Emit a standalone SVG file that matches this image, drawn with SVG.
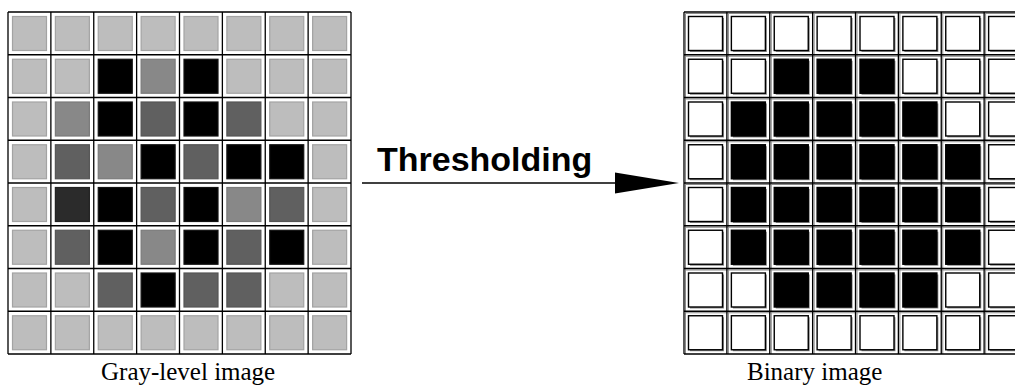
<svg xmlns="http://www.w3.org/2000/svg" xmlns:xlink="http://www.w3.org/1999/xlink" width="1015" height="385" viewBox="0 0 1015 385">
<style>
.grid{fill:none;stroke:#000;stroke-width:1.3}
.shade{fill:none;stroke:#8a8a8a;stroke-width:1}
.cap{font-family:"Liberation Serif","Times New Roman",serif;font-size:25px;fill:#000}
.title{font-family:"Liberation Sans",Arial,sans-serif;font-weight:bold;font-size:34px;fill:#000}
</style>
<defs>
<g id="L"><rect x="4.5" y="4.5" width="34" height="34" fill="#bdbdbd" stroke="#a3a3a3" stroke-width="1.2"/></g>
<g id="M"><rect x="4.5" y="4.5" width="34" height="34" fill="#888888" stroke="#7a7a7a" stroke-width="1.2"/></g>
<g id="D"><rect x="4.5" y="4.5" width="34" height="34" fill="#606060" stroke="#555555" stroke-width="1.2"/></g>
<g id="V"><rect x="4.5" y="4.5" width="34" height="34" fill="#2b2b2b" stroke="#222222" stroke-width="1.2"/></g>
<g id="K"><rect x="4.5" y="4.5" width="34" height="34" fill="#000000" stroke="#111111" stroke-width="1.2"/></g>
<g id="W"><rect x="6" y="6" width="34" height="34" fill="#8a8a8a"/><rect x="4.5" y="4.5" width="34" height="34" fill="#ffffff" stroke="#000" stroke-width="1.4"/></g>
<g id="B"><rect x="6" y="6" width="34" height="34" fill="#8a8a8a"/><rect x="4.5" y="4.5" width="34" height="34" fill="#000000" stroke="#000" stroke-width="1.4"/></g>
</defs>
<rect width="1015" height="385" fill="#fff"/>

<g id="gray-grid">
<g transform="translate(0,12)"><use href="#L" x="8"/><use href="#L" x="50.875"/><use href="#L" x="93.75"/><use href="#L" x="136.625"/><use href="#L" x="179.5"/><use href="#L" x="222.375"/><use href="#L" x="265.25"/><use href="#L" x="308.125"/></g>
<g transform="translate(0,54.75)"><use href="#L" x="8"/><use href="#L" x="50.875"/><use href="#K" x="93.75"/><use href="#M" x="136.625"/><use href="#K" x="179.5"/><use href="#L" x="222.375"/><use href="#L" x="265.25"/><use href="#L" x="308.125"/></g>
<g transform="translate(0,97.5)"><use href="#L" x="8"/><use href="#M" x="50.875"/><use href="#K" x="93.75"/><use href="#D" x="136.625"/><use href="#K" x="179.5"/><use href="#D" x="222.375"/><use href="#L" x="265.25"/><use href="#L" x="308.125"/></g>
<g transform="translate(0,140.25)"><use href="#L" x="8"/><use href="#D" x="50.875"/><use href="#M" x="93.75"/><use href="#K" x="136.625"/><use href="#D" x="179.5"/><use href="#K" x="222.375"/><use href="#K" x="265.25"/><use href="#L" x="308.125"/></g>
<g transform="translate(0,183)"><use href="#L" x="8"/><use href="#V" x="50.875"/><use href="#K" x="93.75"/><use href="#D" x="136.625"/><use href="#K" x="179.5"/><use href="#M" x="222.375"/><use href="#D" x="265.25"/><use href="#L" x="308.125"/></g>
<g transform="translate(0,225.75)"><use href="#L" x="8"/><use href="#D" x="50.875"/><use href="#K" x="93.75"/><use href="#M" x="136.625"/><use href="#K" x="179.5"/><use href="#D" x="222.375"/><use href="#K" x="265.25"/><use href="#L" x="308.125"/></g>
<g transform="translate(0,268.5)"><use href="#L" x="8"/><use href="#L" x="50.875"/><use href="#D" x="93.75"/><use href="#K" x="136.625"/><use href="#D" x="179.5"/><use href="#D" x="222.375"/><use href="#L" x="265.25"/><use href="#L" x="308.125"/></g>
<g transform="translate(0,311.25)"><use href="#L" x="8"/><use href="#L" x="50.875"/><use href="#L" x="93.75"/><use href="#L" x="136.625"/><use href="#L" x="179.5"/><use href="#L" x="222.375"/><use href="#L" x="265.25"/><use href="#L" x="308.125"/></g>
<path class="grid" d="M8 12V354M50.875 12V354M93.75 12V354M136.625 12V354M179.5 12V354M222.375 12V354M265.25 12V354M308.125 12V354M351 12V354M8 12H351M8 54.75H351M8 97.5H351M8 140.25H351M8 183H351M8 225.75H351M8 268.5H351M8 311.25H351M8 354H351"/>
<text class="cap" x="101" y="380">Gray-level image</text>
</g>

<g id="binary-grid">
<g transform="translate(0,12)"><use href="#W" x="684"/><use href="#W" x="726.875"/><use href="#W" x="769.75"/><use href="#W" x="812.625"/><use href="#W" x="855.5"/><use href="#W" x="898.375"/><use href="#W" x="941.25"/><use href="#W" x="984.125"/></g>
<g transform="translate(0,54.75)"><use href="#W" x="684"/><use href="#W" x="726.875"/><use href="#B" x="769.75"/><use href="#B" x="812.625"/><use href="#B" x="855.5"/><use href="#W" x="898.375"/><use href="#W" x="941.25"/><use href="#W" x="984.125"/></g>
<g transform="translate(0,97.5)"><use href="#W" x="684"/><use href="#B" x="726.875"/><use href="#B" x="769.75"/><use href="#B" x="812.625"/><use href="#B" x="855.5"/><use href="#B" x="898.375"/><use href="#W" x="941.25"/><use href="#W" x="984.125"/></g>
<g transform="translate(0,140.25)"><use href="#W" x="684"/><use href="#B" x="726.875"/><use href="#B" x="769.75"/><use href="#B" x="812.625"/><use href="#B" x="855.5"/><use href="#B" x="898.375"/><use href="#B" x="941.25"/><use href="#W" x="984.125"/></g>
<g transform="translate(0,183)"><use href="#W" x="684"/><use href="#B" x="726.875"/><use href="#B" x="769.75"/><use href="#B" x="812.625"/><use href="#B" x="855.5"/><use href="#B" x="898.375"/><use href="#B" x="941.25"/><use href="#W" x="984.125"/></g>
<g transform="translate(0,225.75)"><use href="#W" x="684"/><use href="#B" x="726.875"/><use href="#B" x="769.75"/><use href="#B" x="812.625"/><use href="#B" x="855.5"/><use href="#B" x="898.375"/><use href="#B" x="941.25"/><use href="#W" x="984.125"/></g>
<g transform="translate(0,268.5)"><use href="#W" x="684"/><use href="#W" x="726.875"/><use href="#B" x="769.75"/><use href="#B" x="812.625"/><use href="#B" x="855.5"/><use href="#B" x="898.375"/><use href="#W" x="941.25"/><use href="#W" x="984.125"/></g>
<g transform="translate(0,311.25)"><use href="#W" x="684"/><use href="#W" x="726.875"/><use href="#W" x="769.75"/><use href="#W" x="812.625"/><use href="#W" x="855.5"/><use href="#W" x="898.375"/><use href="#W" x="941.25"/><use href="#W" x="984.125"/></g>
<path class="shade" d="M685.5 13.5V354M728.375 13.5V354M771.25 13.5V354M814.125 13.5V354M857 13.5V354M899.875 13.5V354M942.75 13.5V354M985.625 13.5V354M685.5 13.5H1027M685.5 56.25H1027M685.5 99H1027M685.5 141.75H1027M685.5 184.5H1027M685.5 227.25H1027M685.5 270H1027M685.5 312.75H1027"/>
<path class="grid" d="M684 12V354M726.875 12V354M769.75 12V354M812.625 12V354M855.5 12V354M898.375 12V354M941.25 12V354M984.125 12V354M684 12H1027M684 54.75H1027M684 97.5H1027M684 140.25H1027M684 183H1027M684 225.75H1027M684 268.5H1027M684 311.25H1027M684 354H1027"/>
<text class="cap" x="747" y="380">Binary image</text>
</g>

<g id="connectors">
<line x1="362" y1="183" x2="617" y2="183" stroke="#000" stroke-width="1.3"/>
<polygon points="615,172.5 679,183 615,193.5" fill="#000"/>
<text class="title" x="377" y="171">Thresholding</text>
</g>
</svg>
